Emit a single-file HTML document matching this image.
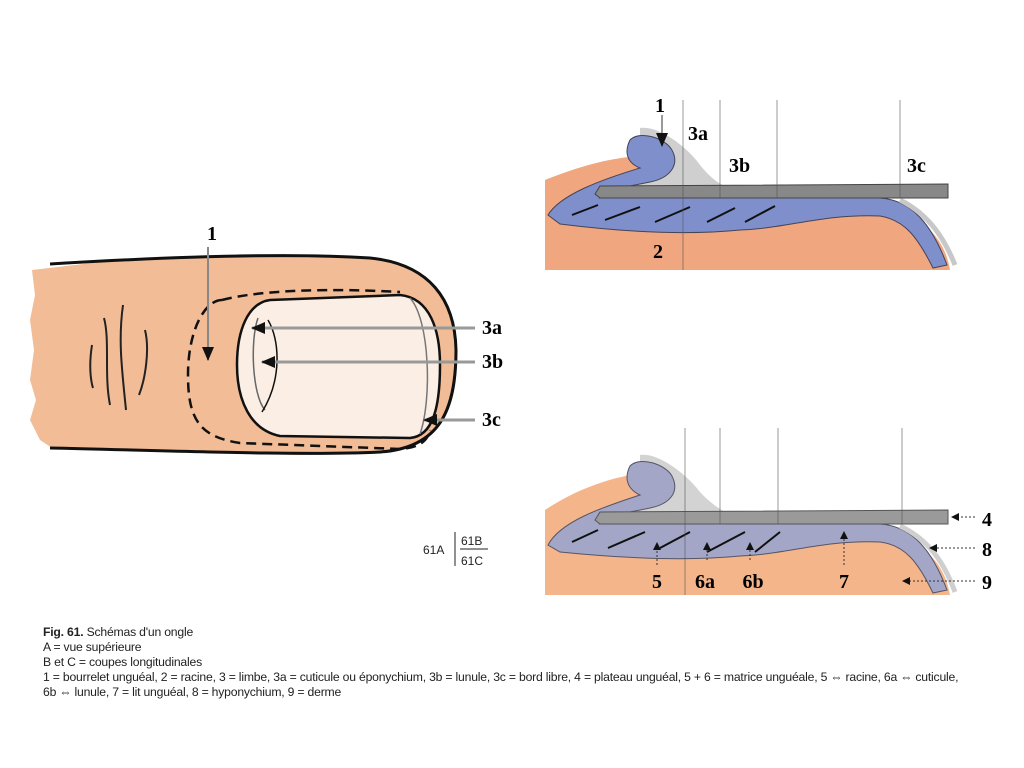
<!DOCTYPE html>
<html><head><meta charset="utf-8"><style>
body{margin:0;background:#fff;width:1024px;height:768px;overflow:hidden;font-family:"Liberation Sans",sans-serif}
.cap{position:absolute;left:43px;top:625px;font-size:12.2px;line-height:15px;color:#222;font-family:"Liberation Sans Narrow","Liberation Sans",sans-serif;letter-spacing:-0.2px}
</style></head><body>
<svg width="1024" height="768" style="position:absolute;left:0;top:0" font-family="Liberation Serif,serif" font-weight="bold">
<defs>
<marker id="ah" markerWidth="8" markerHeight="8" refX="7" refY="4" orient="auto" markerUnits="userSpaceOnUse"><path d="M0,0L8,4L0,8Z" fill="#111"/></marker>
<marker id="ah2" markerWidth="14" markerHeight="12" refX="13" refY="6" orient="auto" markerUnits="userSpaceOnUse"><path d="M0,0L14,6L0,12Z" fill="#111"/></marker>
</defs>
<!-- Finger A -->
<path d="M32,270 L100,262 C200,256 300,252 370,258 C430,264 455,300 456,350 C456,410 440,448 380,452 L300,455 C200,452 120,448 52,448 L40,440 L30,420 L36,400 L30,380 L34,350 L30,320 L35,295 Z" fill="#f2bc96"/>
<path d="M50,264 C150,258 280,252 370,258 C430,264 455,300 456,350 C456,410 440,448 380,452 C300,456 150,450 50,448" fill="none" stroke="#111" stroke-width="3"/>
<path d="M270,300 L400,295 C430,298 440,330 440,365 C440,410 432,436 410,438 L280,436 C250,430 237,400 237,365 C237,330 248,303 270,300 Z" fill="#fbeee4" stroke="#111" stroke-width="2.5"/>
<path d="M258,318 C250,340 252,395 265,410" fill="none" stroke="#666" stroke-width="1.5"/>
<path d="M268,320 C280,340 282,380 262,412" fill="none" stroke="#111" stroke-width="1.5"/>
<path d="M410,298 C430,320 432,400 420,434" fill="none" stroke="#777" stroke-width="1.5"/>
<path d="M222,300 C205,300 188,330 188,375 C188,420 200,437 240,443 L400,449 C420,448 428,440 430,430 M222,300 C260,290 330,288 400,292" fill="none" stroke="#111" stroke-width="2.5" stroke-dasharray="10,6"/>
<g stroke="#222" stroke-width="2" fill="none"><path d="M92,345 C88,370 92,385 93,388"/><path d="M104,318 C110,340 104,375 110,405"/><path d="M123,305 C118,340 122,370 126,410"/><path d="M145,330 C150,350 145,380 139,395"/></g>
<text x="212" y="240" font-size="20" text-anchor="middle">1</text>
<line x1="208" y1="247" x2="208" y2="360" stroke="#888" stroke-width="2" marker-end="url(#ah2)"/>
<g stroke="#999" stroke-width="3"><line x1="475" y1="328" x2="252" y2="328" marker-end="url(#ah2)"/><line x1="475" y1="362" x2="262" y2="362" marker-end="url(#ah2)"/><line x1="475" y1="420" x2="424" y2="420" marker-end="url(#ah2)"/></g>
<text x="482" y="334" font-size="20">3a</text><text x="482" y="368" font-size="20">3b</text><text x="482" y="426" font-size="20">3c</text>

<!-- Section B -->
<g>
<path d="M545,270 L545,180 C580,166 610,158 640,156 L700,200 L880,205 C925,215 945,240 950,270 Z" fill="#f0a67e"/>
<path d="M640,128 C660,125 690,150 700,165 C712,180 722,185 725,186 L605,186 C630,175 660,170 672,160 C680,150 665,138 640,138 Z" fill="#cfcfcf"/>
<path d="M548,215 C560,195 600,180 640,168 C625,162 625,150 630,140 C640,130 665,138 672,150 C680,165 670,178 650,182 L610,190 L600,198 L880,198 C912,200 932,225 947,265 L933,268 C918,238 905,220 880,216 C820,214 790,228 740,230 C700,234 640,234 560,224 Z" fill="#7f8fcc" stroke="#445" stroke-width="1"/>
<path d="M900,200 C930,215 945,240 955,265" fill="none" stroke="#c8c8c8" stroke-width="5"/>
<path d="M600,186 L948,184 L948,198 L600,198 L595,194 Z" fill="#888" stroke="#444" stroke-width="1"/>
<g stroke="#111" stroke-width="2"><line x1="572" y1="215" x2="598" y2="205"/><line x1="605" y1="220" x2="640" y2="207"/><line x1="655" y1="222" x2="690" y2="207"/><line x1="707" y1="222" x2="735" y2="208"/><line x1="745" y1="222" x2="775" y2="206"/></g>
<g stroke="#555" stroke-width="0.6"><line x1="683" y1="100" x2="683" y2="270"/><line x1="720" y1="100" x2="720" y2="198"/><line x1="777" y1="100" x2="777" y2="198"/><line x1="900" y1="100" x2="900" y2="198"/></g>
<text x="660" y="112" font-size="20" text-anchor="middle">1</text>
<line x1="662" y1="115" x2="662" y2="146" stroke="#777" stroke-width="1.5" marker-end="url(#ah2)"/>
<text x="688" y="140" font-size="20">3a</text><text x="729" y="172" font-size="20">3b</text><text x="907" y="172" font-size="20">3c</text><text x="653" y="258" font-size="20">2</text>
</g>

<!-- Section C -->
<g>
<path d="M545,595 L545,510 C575,490 605,480 630,475 L700,525 L880,530 C925,540 945,565 950,595 Z" fill="#f4b58a"/>
<path d="M640,455 C660,452 690,478 700,492 C712,505 722,510 725,512 L605,512 C630,502 660,496 672,486 C680,476 665,465 640,465 Z" fill="#d3d3d3"/>
<path d="M548,545 C560,522 600,508 640,495 C625,488 625,476 630,466 C640,456 665,464 672,476 C680,492 670,504 650,508 L610,516 L600,524 L880,524 C912,526 932,550 947,590 L933,593 C918,562 905,545 880,542 C820,540 790,554 740,556 C700,560 640,560 560,552 Z" fill="#a3a6c6" stroke="#556" stroke-width="1"/>
<path d="M900,526 C930,540 945,565 955,592" fill="none" stroke="#cfcfcf" stroke-width="5"/>
<path d="M600,512 L948,510 L948,524 L600,524 L595,520 Z" fill="#9a9a9a" stroke="#555" stroke-width="1"/>
<g stroke="#111" stroke-width="2"><line x1="572" y1="542" x2="598" y2="530"/><line x1="608" y1="548" x2="645" y2="532"/><line x1="660" y1="548" x2="690" y2="532"/><line x1="707" y1="552" x2="745" y2="532"/><line x1="755" y1="552" x2="780" y2="532"/></g>
<g stroke="#555" stroke-width="0.6"><line x1="685" y1="428" x2="685" y2="595"/><line x1="720" y1="428" x2="720" y2="524"/><line x1="778" y1="428" x2="778" y2="524"/><line x1="902" y1="428" x2="902" y2="524"/></g>
<g stroke="#333" stroke-width="1" stroke-dasharray="2,2"><line x1="975" y1="517" x2="952" y2="517" marker-end="url(#ah)"/><line x1="975" y1="548" x2="930" y2="548" marker-end="url(#ah)"/><line x1="975" y1="581" x2="903" y2="581" marker-end="url(#ah)"/><line x1="657" y1="565" x2="657" y2="543" marker-end="url(#ah)"/><line x1="707" y1="560" x2="707" y2="543" marker-end="url(#ah)"/><line x1="750" y1="560" x2="750" y2="543" marker-end="url(#ah)"/><line x1="844" y1="565" x2="844" y2="532" marker-end="url(#ah)"/></g>
<text x="982" y="526" font-size="20">4</text><text x="982" y="556" font-size="20">8</text><text x="982" y="589" font-size="20">9</text>
<text x="657" y="588" font-size="20" text-anchor="middle">5</text><text x="705" y="588" font-size="20" text-anchor="middle">6a</text><text x="753" y="588" font-size="20" text-anchor="middle">6b</text><text x="844" y="588" font-size="20" text-anchor="middle">7</text>
</g>
<g font-family="Liberation Sans,sans-serif" font-weight="normal" font-size="12" fill="#222">
<text x="423" y="554">61A</text><line x1="455" y1="532" x2="455" y2="566" stroke="#222"/><text x="461" y="545">61B</text><line x1="460" y1="549" x2="488" y2="549" stroke="#222"/><text x="461" y="565">61C</text>
</g>
</svg>
<div class="cap"><b>Fig. 61.</b> Schémas d'un ongle<br>A = vue supérieure<br>B et C = coupes longitudinales<br>1 = bourrelet unguéal, 2 = racine, 3 = limbe, 3a = cuticule ou éponychium, 3b = lunule, 3c = bord libre, 4 = plateau unguéal, 5 + 6 = matrice unguéale, 5 ⇔ racine, 6a ⇔ cuticule,<br>6b ⇔ lunule, 7 = lit unguéal, 8 = hyponychium, 9 = derme</div>
</body></html>
